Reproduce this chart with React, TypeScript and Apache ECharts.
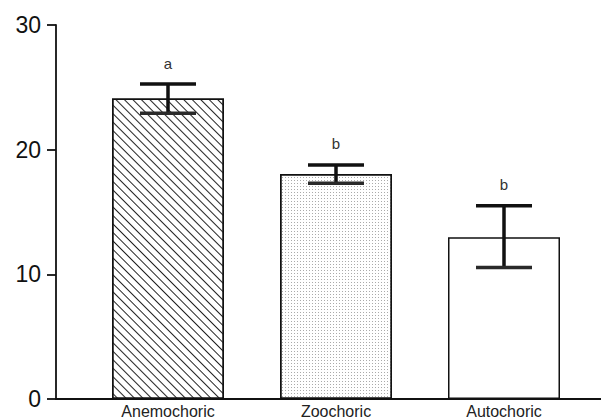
import React, { useEffect, useRef } from "react";
import * as echarts from "echarts";

const categories = ["Anemochoric", "Zoochoric", "Autochoric"];
const means = [24.1, 18.05, 12.98];
const errLow = [22.93, 17.31, 10.54];
const errHigh = [25.26, 18.78, 15.51];
const letters = ["a", "b", "b"];
const yTicks = { min: 0, max: 30, interval: 10 };

export default function App() {
  const ref = useRef<HTMLDivElement>(null);
  useEffect(() => {
    if (!ref.current) return;
    const chart = echarts.init(ref.current, null, { renderer: "svg" });
    const decals: any[] = [
      {
        symbol: "rect",
        symbolSize: 1,
        color: "#222",
        backgroundColor: "#fff",
        dashArrayX: [1, 0],
        dashArrayY: [1, 5],
        rotation: Math.PI / 4,
      },
      {
        symbol: "rect",
        symbolSize: 1,
        color: "#aaa",
        backgroundColor: "#fff",
        dashArrayX: [1, 2],
        dashArrayY: [1, 2],
        rotation: 0,
      },
      null,
    ];
    const barData = means.map((v, i) => ({
      value: v,
      itemStyle: {
        color: "#fff",
        borderColor: "#111",
        borderWidth: 1.5,
        ...(decals[i] ? { decal: decals[i] } : {}),
      },
    }));
    const errData = means.map((_, i) => [i, errLow[i], errHigh[i]]);
    chart.setOption({
      animation: false,
      backgroundColor: "#fff",
      aria: { enabled: false, decal: { show: false } },
      grid: [
        { left: 84, right: 13, top: 25, bottom: 20 },
        { left: 56, right: 0, top: 25, bottom: 20 },
      ],
      xAxis: [
        {
          type: "category",
          data: categories,
          gridIndex: 0,
          axisLine: { show: false },
          axisTick: { show: false },
          axisLabel: {
            fontSize: 16,
            color: "#222",
            margin: 4,
            fontFamily: "Liberation Sans, Arial, sans-serif",
          },
        },
        {
          type: "value",
          gridIndex: 1,
          min: 0,
          max: 1,
          axisLine: { show: true, lineStyle: { color: "#111", width: 1.8 } },
          axisTick: { show: false },
          axisLabel: { show: false },
          splitLine: { show: false },
        },
      ],
      yAxis: [
        {
          type: "value",
          gridIndex: 0,
          min: yTicks.min,
          max: yTicks.max,
          interval: yTicks.interval,
          offset: 28,
          axisLine: { show: true, lineStyle: { color: "#111", width: 1.8 } },
          axisTick: { show: true, length: 9, lineStyle: { color: "#111", width: 1.8 } },
          axisLabel: {
            fontSize: 23,
            color: "#111",
            margin: 15,
            fontFamily: "Liberation Sans, Arial, sans-serif",
          },
          splitLine: { show: false },
        },
        {
          type: "value",
          gridIndex: 1,
          min: 0,
          max: 1,
          show: false,
        },
      ],
      series: [
        {
          type: "bar",
          xAxisIndex: 0,
          yAxisIndex: 0,
          data: barData,
          barWidth: 112,
          z: 2,
        },
        {
          type: "custom",
          xAxisIndex: 0,
          yAxisIndex: 0,
          z: 5,
          data: errData,
          renderItem: (params: any, api: any) => {
            const idx = api.value(0);
            const lo = api.value(1);
            const hi = api.value(2);
            const top = api.coord([idx, hi]);
            const bot = api.coord([idx, lo]);
            const half = 28;
            const st = { stroke: "#111", lineWidth: 3.5 };
            return {
              type: "group",
              children: [
                { type: "line", shape: { x1: top[0], y1: top[1], x2: bot[0], y2: bot[1] }, style: st },
                { type: "line", shape: { x1: top[0] - half, y1: top[1], x2: top[0] + half, y2: top[1] }, style: st },
                { type: "line", shape: { x1: bot[0] - half, y1: bot[1], x2: bot[0] + half, y2: bot[1] }, style: { stroke: "#2a2a2a", lineWidth: 3.5 } },
                {
                  type: "text",
                  style: {
                    text: letters[params.dataIndex],
                    x: top[0],
                    y: top[1] - 21,
                    align: "center",
                    verticalAlign: "middle",
                    fontSize: 15,
                    fill: "#333",
                    fontFamily: "Liberation Sans, Arial, sans-serif",
                  },
                },
              ],
            };
          },
        },
      ],
    });
    return () => chart.dispose();
  }, []);
  return (
    <div
      ref={ref}
      style={{ position: "fixed", left: 0, top: 0, width: 601, height: 419, background: "#fff" }}
    />
  );
}
